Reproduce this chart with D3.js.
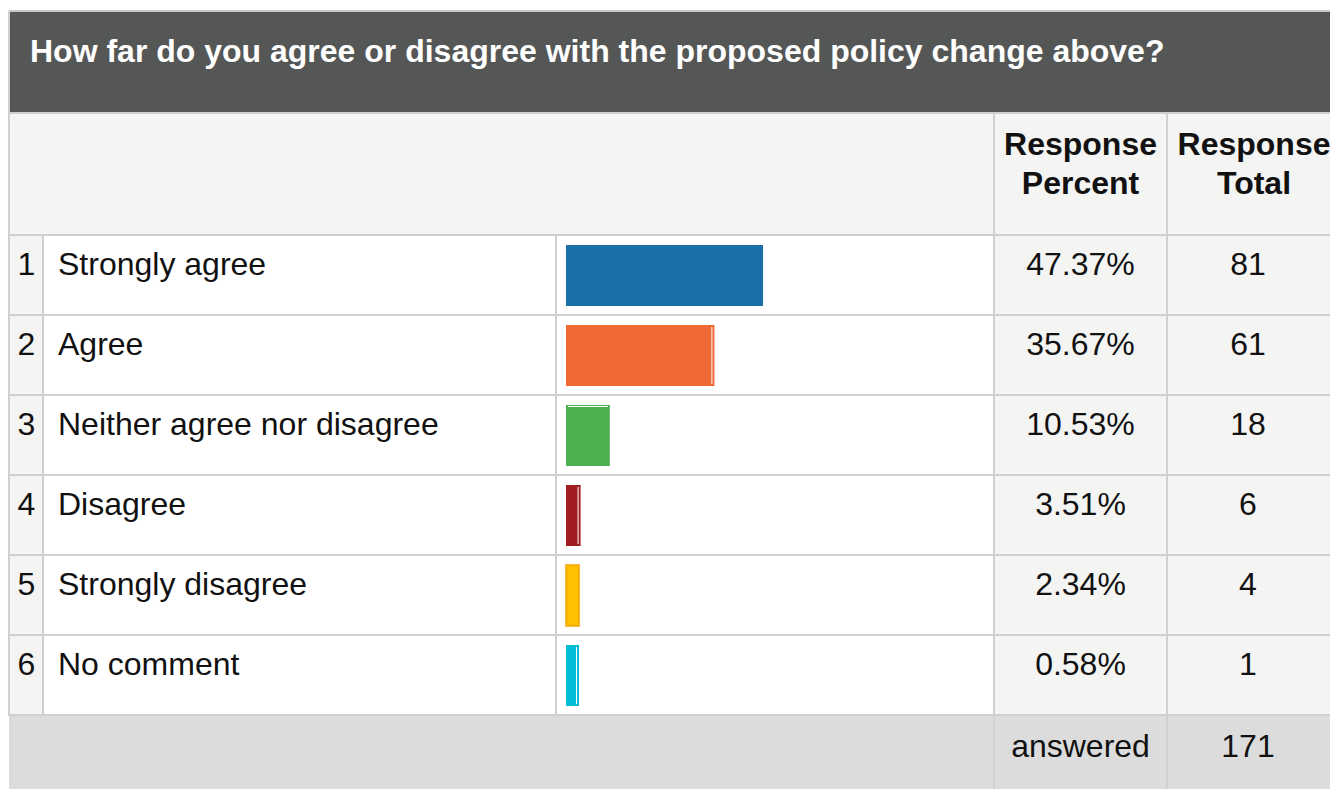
<!DOCTYPE html>
<html>
<head>
<meta charset="utf-8">
<script src="https://cdn.jsdelivr.net/npm/d3@7"></script>
<style>
  body { margin: 0; background: #fff; }
  svg { display: block; font-family: "Liberation Sans", Arial, sans-serif; }
</style>
</head>
<body>
<div id="chart"></div>
<script>
// survey data
var question = "How far do you agree or disagree with the proposed policy change above?";
var answers = ["Strongly agree", "Agree", "Neither agree nor disagree", "Disagree", "Strongly disagree", "No comment"];
var percents = [47.37, 35.67, 10.53, 3.51, 2.34, 0.58];
var totals = [81, 61, 18, 6, 4, 1];
var answered = 171;
var headPct = ["Response", "Percent"];
var headTot = ["Response", "Total"];

var barColors = ["#1c6fa6", "#f06833", "#4caf50", "#a11d21", "#ffc000", "#00bcd4"];
// little white glint the survey tool draws on some bars
var glint = ["none", "v", "h", "v", "edge", "v"];

var W = 1330, H = 789;
var lineCol = "#d0d0d0";
var fs = "32px";

// column edges
var cx = { left: 9, num: 43, label: 556, bar: 994, pct: 1167, right: 1341 };

var svg = d3.select("#chart").append("svg")
    .attr("width", W)
    .attr("height", H);

var y = d3.scaleBand()
    .domain(answers)
    .range([235, 715]);

var x = d3.scaleLinear()
    .domain([0, 100])
    .range([0, 416]);

var minBar = 13;

// title block
svg.append("rect")
    .attr("x", cx.left).attr("y", 11)
    .attr("width", cx.right - cx.left).attr("height", 102)
    .style("fill", "#555756");
svg.append("line")
    .attr("x1", cx.left).attr("x2", W).attr("y1", 11).attr("y2", 11)
    .style("stroke", "#c8c8c8").style("stroke-width", 2);

svg.append("text")
    .attr("x", 30).attr("y", 62)
    .style("font-size", "32px").style("font-weight", "bold")
    .style("fill", "#fff")
    .text(question);

// header row
svg.append("rect")
    .attr("x", cx.left).attr("y", 113)
    .attr("width", cx.right - cx.left).attr("height", 122)
    .style("fill", "#f4f4f3");

function headText(lines, cxm) {
    lines.forEach(function(t, i) {
        svg.append("text")
            .attr("x", cxm).attr("y", 155 + 39 * i)
            .attr("text-anchor", "middle")
            .style("font-size", fs).style("font-weight", "bold")
            .style("fill", "#111")
            .text(t);
    });
}
headText(headPct, (cx.bar + cx.pct) / 2);
headText(headTot, (cx.pct + cx.right) / 2);

// body rows
var rows = svg.selectAll("g.row")
    .data(answers)
    .enter().append("g")
    .attr("class", "row")
    .attr("transform", function(d) { return "translate(0," + y(d) + ")"; });

rows.append("rect")
    .attr("x", cx.left).attr("width", cx.right - cx.left)
    .attr("height", y.bandwidth())
    .style("fill", "#fff");

rows.append("rect")
    .attr("x", cx.left).attr("width", cx.num - cx.left)
    .attr("height", y.bandwidth())
    .style("fill", "#f4f4f3");

rows.append("rect")
    .attr("x", cx.bar).attr("width", cx.right - cx.bar)
    .attr("height", y.bandwidth())
    .style("fill", "#f4f4f3");

rows.append("text")
    .attr("x", (cx.left + cx.num) / 2 + 0.5).attr("y", 39.5)
    .attr("text-anchor", "middle")
    .style("font-size", fs).style("fill", "#111")
    .text(function(d, i) { return i + 1; });

rows.append("text")
    .attr("x", 58).attr("y", 39.5)
    .style("font-size", fs).style("fill", "#111")
    .text(function(d) { return d; });

rows.append("text")
    .attr("x", (cx.bar + cx.pct) / 2).attr("y", 39.5)
    .attr("text-anchor", "middle")
    .style("font-size", fs).style("fill", "#111")
    .text(function(d, i) { return d3.format(".2f")(percents[i]) + "%"; });

rows.append("text")
    .attr("x", (cx.pct + cx.right) / 2 - 6).attr("y", 39.5)
    .attr("text-anchor", "middle")
    .style("font-size", fs).style("fill", "#111")
    .text(function(d, i) { return totals[i]; });

// bars
var barW = function(i) { return Math.max(minBar, x(percents[i])); };
var bx = cx.label + 10;

rows.append("rect")
    .attr("x", bx).attr("y", 10)
    .attr("width", function(d, i) { return barW(i); })
    .attr("height", 61)
    .style("fill", function(d, i) { return barColors[i]; })
    .style("stroke", function(d, i) { return glint[i] == "edge" ? "#f5a300" : "none"; })
    .style("stroke-width", 1.5);

rows.filter(function(d, i) { return glint[i] == "v"; })
    .append("line")
    .attr("x1", function(d) { return bx + barW(answers.indexOf(d)) - 2.5; })
    .attr("x2", function(d) { return bx + barW(answers.indexOf(d)) - 2.5; })
    .attr("y1", 12).attr("y2", 69)
    .style("stroke", "#fff").style("stroke-width", 1);

rows.filter(function(d, i) { return glint[i] == "h"; })
    .append("line")
    .attr("x1", bx + 2)
    .attr("x2", function(d) { return bx + barW(answers.indexOf(d)) - 2; })
    .attr("y1", 11.5).attr("y2", 11.5)
    .style("stroke", "#fff").style("stroke-width", 1);

// footer
svg.append("rect")
    .attr("x", cx.left).attr("y", 716)
    .attr("width", cx.right - cx.left).attr("height", H - 716)
    .style("fill", "#dcdcdc");

svg.append("text")
    .attr("x", (cx.bar + cx.pct) / 2).attr("y", 757)
    .attr("text-anchor", "middle")
    .style("font-size", fs).style("fill", "#111")
    .text("answered");

svg.append("text")
    .attr("x", (cx.pct + cx.right) / 2 - 6).attr("y", 757)
    .attr("text-anchor", "middle")
    .style("font-size", fs).style("fill", "#111")
    .text(answered);

// grid lines
var hLines = [113, 235].concat(answers.map(function(d) { return y(d) + y.bandwidth(); }));
svg.selectAll("line.h")
    .data(hLines)
    .enter().append("line")
    .attr("class", "h")
    .attr("x1", cx.left).attr("x2", W)
    .attr("y1", function(d) { return d; }).attr("y2", function(d) { return d; })
    .style("stroke", lineCol).style("stroke-width", 2);

var vLines = [
    { x: cx.left, y1: 11, y2: 716 },
    { x: cx.num, y1: 235, y2: 716 },
    { x: cx.label, y1: 235, y2: 716 },
    { x: cx.bar, y1: 113, y2: H },
    { x: cx.pct, y1: 113, y2: H }
];
svg.selectAll("line.v")
    .data(vLines)
    .enter().append("line")
    .attr("class", "v")
    .attr("x1", function(d) { return d.x; }).attr("x2", function(d) { return d.x; })
    .attr("y1", function(d) { return d.y1; }).attr("y2", function(d) { return d.y2; })
    .style("stroke", lineCol).style("stroke-width", 2);
</script>
</body>
</html>
